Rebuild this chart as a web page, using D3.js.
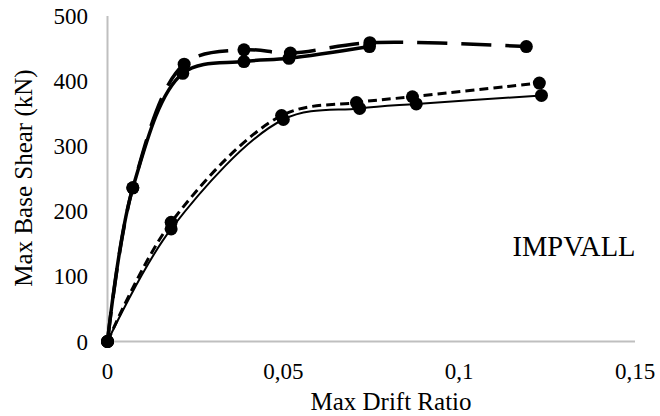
<!DOCTYPE html>
<html>
<head>
<meta charset="utf-8">
<script src="https://cdn.jsdelivr.net/npm/d3@7"></script>
<style>
body { margin: 0; background: #fff; }
text { font-family: "Liberation Serif", "Times New Roman", serif; fill: #000; }
</style>
</head>
<body>
<div id="chart"></div>
<script>
//////////////////////////////////////////////////////////////////////////////
// Data

var upperSolidX  = [0, 0.0072, 0.0214, 0.0388, 0.0516, 0.0745];
var upperSolidY  = [0, 236, 412, 430, 435, 453];

var upperDashX   = [0, 0.0072, 0.0218, 0.0388, 0.0520, 0.0746, 0.1191];
var upperDashY   = [0, 236, 426, 448, 443, 459, 453];

var lowerSolidX  = [0, 0.0181, 0.0500, 0.0717, 0.0878, 0.1234];
var lowerSolidY  = [0, 173, 341, 358, 365, 378];

var lowerDashX   = [0, 0.0181, 0.0495, 0.0708, 0.0867, 0.1228];
var lowerDashY   = [0, 183, 347, 367, 376, 397];

var xTicks = [0, 0.05, 0.1, 0.15];
var xTickLabels = ["0", "0,05", "0,1", "0,15"];
var yTicks = [0, 100, 200, 300, 400, 500];

var xTitle = "Max Drift Ratio";
var yTitle = "Max Base Shear (kN)";
var quakeName = "IMPVALL";

//////////////////////////////////////////////////////////////////////////////

var width = 660, height = 416;

var xScale = d3.scaleLinear().domain([0, 0.15]).range([107.5, 635]);
var yScale = d3.scaleLinear().domain([0, 500]).range([341.5, 16]);

function zip(xs, ys) {
    return xs.map(function(x, i) { return {x: x, y: ys[i]}; });
}

var series = [
    {data: zip(lowerSolidX, lowerSolidY), width: 2,   dash: null},
    {data: zip(lowerDashX,  lowerDashY),  width: 3,   dash: "9,5"},
    {data: zip(upperDashX,  upperDashY),  width: 3.5, dash: "30,14"},
    {data: zip(upperSolidX, upperSolidY), width: 3.5, dash: null}
];

var svg = d3.select("#chart")
    .append("svg")
    .attr("width", width)
    .attr("height", height);

// axis lines
svg.append("line")
    .attr("x1", xScale(0)).attr("x2", xScale(0))
    .attr("y1", yScale(500)).attr("y2", yScale(0))
    .attr("stroke", "#bfbfbf")
    .attr("stroke-width", 2);

svg.append("line")
    .attr("x1", xScale(0)).attr("x2", xScale(0.15))
    .attr("y1", yScale(0)).attr("y2", yScale(0))
    .attr("stroke", "#bfbfbf")
    .attr("stroke-width", 2);

// tick labels
svg.append("g")
    .selectAll("text")
    .data(yTicks)
    .enter()
    .append("text")
    .attr("x", 88)
    .attr("y", function(d) { return yScale(d); })
    .attr("dy", "0.35em")
    .attr("text-anchor", "end")
    .attr("font-size", 23)
    .text(function(d) { return d; });

svg.append("g")
    .selectAll("text")
    .data(xTicks)
    .enter()
    .append("text")
    .attr("x", function(d) { return xScale(d); })
    .attr("y", 379)
    .attr("text-anchor", "middle")
    .attr("font-size", 23)
    .text(function(d, i) { return xTickLabels[i]; });

// axis titles
svg.append("text")
    .attr("x", 391)
    .attr("y", 410)
    .attr("text-anchor", "middle")
    .attr("font-size", 25)
    .text(xTitle);

svg.append("text")
    .attr("transform", "translate(32,178) rotate(-90)")
    .attr("text-anchor", "middle")
    .attr("font-size", 25)
    .text(yTitle);

svg.append("text")
    .attr("x", 574)
    .attr("y", 256)
    .attr("text-anchor", "middle")
    .attr("font-size", 28.5)
    .text(quakeName);

// curves and markers
var line = d3.line()
    .x(function(d) { return xScale(d.x); })
    .y(function(d) { return yScale(d.y); })
    .curve(d3.curveCatmullRom.alpha(0.5));

var groups = svg.append("g")
    .selectAll("g")
    .data(series)
    .enter()
    .append("g");

groups.append("path")
    .attr("d", function(d) { return line(d.data); })
    .attr("fill", "none")
    .attr("stroke", "#000")
    .attr("stroke-width", function(d) { return d.width; })
    .attr("stroke-dasharray", function(d) { return d.dash; });

groups.selectAll("circle")
    .data(function(d) { return d.data; })
    .enter()
    .append("circle")
    .attr("cx", function(d) { return xScale(d.x); })
    .attr("cy", function(d) { return yScale(d.y); })
    .attr("r", 6.5)
    .attr("fill", "#000");
</script>
</body>
</html>
